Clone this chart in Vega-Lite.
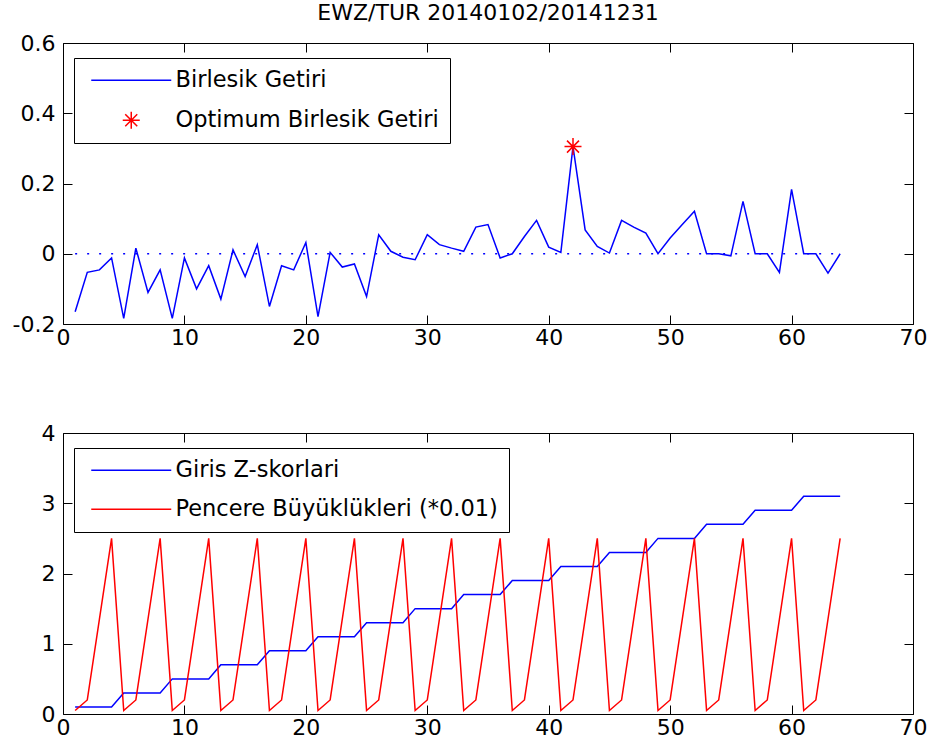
{
  "$schema": "https://vega.github.io/schema/vega-lite/v6.json",
  "padding": {"left": 11, "top": 1, "right": 0, "bottom": 0},
  "background": "white",
  "bounds": "flush",
  "spacing": 109,
  "resolve": {"scale": {"color": "independent", "shape": "independent"}, "legend": {"color": "independent", "shape": "independent"}},
  "config": {
    "view": {"stroke": "black", "strokeWidth": 1},
    "font": "DejaVu Sans",
    "axis": {"grid": false, "domain": false, "tickColor": "black", "tickSize": -9, "tickWidth": 1, "labelColor": "black", "labelFont": "DejaVu Sans", "labelFontSize": 22, "title": null, "labelFlush": false, "labelOverlap": false},
    "legend": {"strokeColor": "black", "fillColor": "white", "padding": 11, "labelFont": "DejaVu Sans", "labelFontSize": 22.5, "labelColor": "black", "symbolSize": 400, "symbolOffset": 35, "labelOffset": 33, "rowPadding": 16, "symbolStrokeWidth": 1.5, "labelLimit": 0}
  },
  "datasets": {
    "zero": [{"x": 1, "y": 0}, {"x": 64, "y": 0}],
    "star": [{"x": 42, "y": 0.305}],
    "ret": [
      {"x": 1, "y": -0.165}, {"x": 2, "y": -0.053}, {"x": 3, "y": -0.046}, {"x": 4, "y": -0.012},
      {"x": 5, "y": -0.184}, {"x": 6, "y": 0.016}, {"x": 7, "y": -0.11}, {"x": 8, "y": -0.046},
      {"x": 9, "y": -0.184}, {"x": 10, "y": -0.012}, {"x": 11, "y": -0.1}, {"x": 12, "y": -0.034},
      {"x": 13, "y": -0.129}, {"x": 14, "y": 0.011}, {"x": 15, "y": -0.065}, {"x": 16, "y": 0.026},
      {"x": 17, "y": -0.15}, {"x": 18, "y": -0.034}, {"x": 19, "y": -0.046}, {"x": 20, "y": 0.032},
      {"x": 21, "y": -0.179}, {"x": 22, "y": 0.004}, {"x": 23, "y": -0.038}, {"x": 24, "y": -0.029},
      {"x": 25, "y": -0.122}, {"x": 26, "y": 0.054}, {"x": 27, "y": 0.007}, {"x": 28, "y": -0.01},
      {"x": 29, "y": -0.017}, {"x": 30, "y": 0.054}, {"x": 31, "y": 0.026}, {"x": 32, "y": 0.016},
      {"x": 33, "y": 0.007}, {"x": 34, "y": 0.076}, {"x": 35, "y": 0.083}, {"x": 36, "y": -0.012},
      {"x": 37, "y": 0}, {"x": 38, "y": 0.049}, {"x": 39, "y": 0.095}, {"x": 40, "y": 0.019},
      {"x": 41, "y": 0.004}, {"x": 42, "y": 0.305}, {"x": 43, "y": 0.068}, {"x": 44, "y": 0.021},
      {"x": 45, "y": 0.002}, {"x": 46, "y": 0.095}, {"x": 47, "y": 0.076}, {"x": 48, "y": 0.059},
      {"x": 49, "y": 0}, {"x": 50, "y": 0.045}, {"x": 51, "y": 0.083}, {"x": 52, "y": 0.121},
      {"x": 53, "y": 0}, {"x": 54, "y": 0}, {"x": 55, "y": -0.006}, {"x": 56, "y": 0.149},
      {"x": 57, "y": 0}, {"x": 58, "y": 0}, {"x": 59, "y": -0.053}, {"x": 60, "y": 0.183},
      {"x": 61, "y": 0}, {"x": 62, "y": 0}, {"x": 63, "y": -0.055}, {"x": 64, "y": 0}
    ],
    "z": [
      {"x": 1, "y": 0.1}, {"x": 2, "y": 0.1}, {"x": 3, "y": 0.1}, {"x": 4, "y": 0.1},
      {"x": 5, "y": 0.3}, {"x": 6, "y": 0.3}, {"x": 7, "y": 0.3}, {"x": 8, "y": 0.3},
      {"x": 9, "y": 0.5}, {"x": 10, "y": 0.5}, {"x": 11, "y": 0.5}, {"x": 12, "y": 0.5},
      {"x": 13, "y": 0.7}, {"x": 14, "y": 0.7}, {"x": 15, "y": 0.7}, {"x": 16, "y": 0.7},
      {"x": 17, "y": 0.9}, {"x": 18, "y": 0.9}, {"x": 19, "y": 0.9}, {"x": 20, "y": 0.9},
      {"x": 21, "y": 1.1}, {"x": 22, "y": 1.1}, {"x": 23, "y": 1.1}, {"x": 24, "y": 1.1},
      {"x": 25, "y": 1.3}, {"x": 26, "y": 1.3}, {"x": 27, "y": 1.3}, {"x": 28, "y": 1.3},
      {"x": 29, "y": 1.5}, {"x": 30, "y": 1.5}, {"x": 31, "y": 1.5}, {"x": 32, "y": 1.5},
      {"x": 33, "y": 1.7}, {"x": 34, "y": 1.7}, {"x": 35, "y": 1.7}, {"x": 36, "y": 1.7},
      {"x": 37, "y": 1.9}, {"x": 38, "y": 1.9}, {"x": 39, "y": 1.9}, {"x": 40, "y": 1.9},
      {"x": 41, "y": 2.1}, {"x": 42, "y": 2.1}, {"x": 43, "y": 2.1}, {"x": 44, "y": 2.1},
      {"x": 45, "y": 2.3}, {"x": 46, "y": 2.3}, {"x": 47, "y": 2.3}, {"x": 48, "y": 2.3},
      {"x": 49, "y": 2.5}, {"x": 50, "y": 2.5}, {"x": 51, "y": 2.5}, {"x": 52, "y": 2.5},
      {"x": 53, "y": 2.7}, {"x": 54, "y": 2.7}, {"x": 55, "y": 2.7}, {"x": 56, "y": 2.7},
      {"x": 57, "y": 2.9}, {"x": 58, "y": 2.9}, {"x": 59, "y": 2.9}, {"x": 60, "y": 2.9},
      {"x": 61, "y": 3.1}, {"x": 62, "y": 3.1}, {"x": 63, "y": 3.1}, {"x": 64, "y": 3.1}
    ],
    "w": [
      {"x": 1, "y": 0.05}, {"x": 2, "y": 0.2}, {"x": 3, "y": 1.35}, {"x": 4, "y": 2.5},
      {"x": 5, "y": 0.05}, {"x": 6, "y": 0.2}, {"x": 7, "y": 1.35}, {"x": 8, "y": 2.5},
      {"x": 9, "y": 0.05}, {"x": 10, "y": 0.2}, {"x": 11, "y": 1.35}, {"x": 12, "y": 2.5},
      {"x": 13, "y": 0.05}, {"x": 14, "y": 0.2}, {"x": 15, "y": 1.35}, {"x": 16, "y": 2.5},
      {"x": 17, "y": 0.05}, {"x": 18, "y": 0.2}, {"x": 19, "y": 1.35}, {"x": 20, "y": 2.5},
      {"x": 21, "y": 0.05}, {"x": 22, "y": 0.2}, {"x": 23, "y": 1.35}, {"x": 24, "y": 2.5},
      {"x": 25, "y": 0.05}, {"x": 26, "y": 0.2}, {"x": 27, "y": 1.35}, {"x": 28, "y": 2.5},
      {"x": 29, "y": 0.05}, {"x": 30, "y": 0.2}, {"x": 31, "y": 1.35}, {"x": 32, "y": 2.5},
      {"x": 33, "y": 0.05}, {"x": 34, "y": 0.2}, {"x": 35, "y": 1.35}, {"x": 36, "y": 2.5},
      {"x": 37, "y": 0.05}, {"x": 38, "y": 0.2}, {"x": 39, "y": 1.35}, {"x": 40, "y": 2.5},
      {"x": 41, "y": 0.05}, {"x": 42, "y": 0.2}, {"x": 43, "y": 1.35}, {"x": 44, "y": 2.5},
      {"x": 45, "y": 0.05}, {"x": 46, "y": 0.2}, {"x": 47, "y": 1.35}, {"x": 48, "y": 2.5},
      {"x": 49, "y": 0.05}, {"x": 50, "y": 0.2}, {"x": 51, "y": 1.35}, {"x": 52, "y": 2.5},
      {"x": 53, "y": 0.05}, {"x": 54, "y": 0.2}, {"x": 55, "y": 1.35}, {"x": 56, "y": 2.5},
      {"x": 57, "y": 0.05}, {"x": 58, "y": 0.2}, {"x": 59, "y": 1.35}, {"x": 60, "y": 2.5},
      {"x": 61, "y": 0.05}, {"x": 62, "y": 0.2}, {"x": 63, "y": 1.35}, {"x": 64, "y": 2.5}
    ]
  },
  "vconcat": [
    {
      "width": 850,
      "height": 281,
      "title": {"text": "EWZ/TUR 20140102/20141231", "font": "DejaVu Sans", "fontSize": 22, "fontWeight": "normal", "color": "black", "anchor": "middle", "frame": "group", "offset": -10, "baseline": "alphabetic"},
      "resolve": {"axis": {"x": "independent", "y": "independent"}},
      "layer": [
        {
          "data": {"name": "zero"},
          "mark": {"type": "line", "color": "#0000ff", "strokeWidth": 1.5, "strokeDash": [2, 10]},
          "encoding": {
            "x": {"field": "x", "type": "quantitative", "scale": {"domain": [0, 70], "nice": false, "zero": false},
                  "axis": {"orient": "bottom", "values": [0, 10, 20, 30, 40, 50, 60, 70], "labelPadding": 12}},
            "y": {"field": "y", "type": "quantitative", "scale": {"domain": [-0.2, 0.6], "nice": false, "zero": false},
                  "axis": {"orient": "left", "values": [-0.2, 0, 0.2, 0.4, 0.6], "labelPadding": 17, "labelExpr": "replace(format(datum.value, '.1~f'), '−', '-')"}}
          }
        },
        {
          "data": {"name": "ret"},
          "mark": {"type": "line", "strokeWidth": 1.5},
          "encoding": {
            "x": {"field": "x", "type": "quantitative", "axis": {"orient": "top", "values": [0, 10, 20, 30, 40, 50, 60, 70], "labels": false}},
            "y": {"field": "y", "type": "quantitative", "axis": {"orient": "right", "values": [-0.2, 0, 0.2, 0.4, 0.6], "labels": false}},
            "color": {"datum": "Birlesik Getiri", "type": "nominal",
                      "scale": {"domain": ["Birlesik Getiri", "Optimum Birlesik Getiri"], "range": ["#0000ff", "#ff0000"]},
                      "legend": {"orient": "none", "legendX": 11, "legendY": 15, "title": null}}
          }
        },
        {
          "data": {"name": "star"},
          "mark": {"type": "point", "size": 400, "filled": false, "strokeWidth": 1.5, "opacity": 1},
          "encoding": {
            "x": {"field": "x", "type": "quantitative", "axis": null},
            "y": {"field": "y", "type": "quantitative", "axis": null},
            "color": {"datum": "Optimum Birlesik Getiri", "type": "nominal"},
            "shape": {"datum": "Optimum Birlesik Getiri", "type": "nominal",
                      "scale": {"domain": ["Birlesik Getiri", "Optimum Birlesik Getiri"], "range": ["M-4,0H4", "M-0.85,0H0.85M0,-0.85V0.85M-0.6,-0.6L0.6,0.6M-0.6,0.6L0.6,-0.6"]},
                      "legend": {"orient": "none", "legendX": 11, "legendY": 15, "title": null}}
          }
        }
      ]
    },
    {
      "width": 850,
      "height": 281,
      "resolve": {"axis": {"x": "independent", "y": "independent"}},
      "layer": [
        {
          "data": {"name": "z"},
          "mark": {"type": "line", "strokeWidth": 1.5},
          "encoding": {
            "x": {"field": "x", "type": "quantitative", "scale": {"domain": [0, 70], "nice": false, "zero": false},
                  "axis": {"orient": "bottom", "values": [0, 10, 20, 30, 40, 50, 60, 70], "labelPadding": 12}},
            "y": {"field": "y", "type": "quantitative", "scale": {"domain": [0, 4], "nice": false, "zero": false},
                  "axis": {"orient": "left", "values": [0, 1, 2, 3, 4], "labelPadding": 17}},
            "color": {"datum": "Giris Z-skorlari", "type": "nominal",
                      "scale": {"domain": ["Giris Z-skorlari", "Pencere Büyüklükleri (*0.01)"], "range": ["#0000ff", "#ff0000"]},
                      "legend": {"orient": "none", "legendX": 11, "legendY": 15, "title": null, "symbolType": "M-4,0H4"}}
          }
        },
        {
          "data": {"name": "w"},
          "mark": {"type": "line", "strokeWidth": 1.5},
          "encoding": {
            "x": {"field": "x", "type": "quantitative", "axis": {"orient": "top", "values": [0, 10, 20, 30, 40, 50, 60, 70], "labels": false}},
            "y": {"field": "y", "type": "quantitative", "axis": {"orient": "right", "values": [0, 1, 2, 3, 4], "labels": false}},
            "color": {"datum": "Pencere Büyüklükleri (*0.01)", "type": "nominal"}
          }
        }
      ]
    }
  ]
}
